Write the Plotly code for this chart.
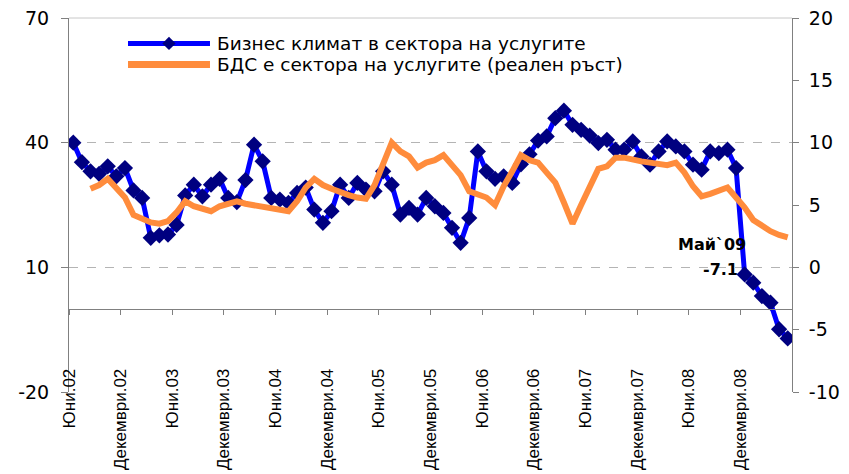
import plotly.graph_objects as go

# Month index 0 = June 2002 ... 83 = May 2009
tick_labels = ["Юни.02", "Декември.02", "Юни.03", "Декември.03", "Юни.04", "Декември.04",
               "Юни.05", "Декември.05", "Юни.06", "Декември.06", "Юни.07", "Декември.07",
               "Юни.08", "Декември.08"]
left_ticks = [-20, 10, 40, 70]
right_ticks = [-10, -5, 0, 5, 10, 15, 20]

business_climate = [
    40.0, 35.3, 33.1, 32.5, 34.3, 31.9, 33.9, 28.5, 26.7, 17.1,
    17.7, 17.9, 20.2, 27.3, 29.9, 27.1, 29.9, 31.3, 26.7, 25.7,
    31.0, 39.5, 35.5, 26.7, 26.3, 25.5, 27.9, 29.2, 23.9, 20.7,
    23.5, 29.9, 26.7, 30.3, 28.7, 28.3, 33.1, 29.9, 22.7, 24.3,
    22.7, 26.7, 24.7, 23.1, 19.5, 15.9, 21.9, 37.9, 33.1, 31.3,
    31.9, 30.3, 34.8, 37.2, 40.5, 41.5, 45.9, 47.7, 44.3, 43.1,
    41.7, 39.9, 40.7, 38.3, 38.3, 40.3, 36.7, 34.7, 37.9, 40.3,
    39.1, 37.9, 34.7, 33.5, 37.9, 37.5, 38.3, 33.9, 8.3, 6.3,
    3.1, 1.5, -4.9, -7.1,
]

gdp_growth = [
    6.3, 6.6, 7.1, 6.3, 5.6, 4.2, 3.9, 3.6, 3.5, 3.7,
    4.4, 5.3, 4.9, 4.7, 4.5, 4.9, 5.1, 5.3, 5.1, 5.0,
    4.9, 4.8, 4.6, 4.5, 5.3, 6.4, 7.1, 6.6, 6.3, 6.0,
    5.8, 5.6, 5.5, 6.6, 8.3, 10.0, 9.3, 8.9, 8.0, 8.4,
    8.6, 9.0, 8.2, 7.4, 6.1, 5.9, 5.6, 5.0, 6.5, 7.7,
    9.0, 8.6, 8.4, 7.6, 6.8, 5.2, 3.5, 5.0, 6.5, 7.9,
    8.1, 8.8, 8.8, 8.6, 8.5, 8.4, 8.3, 8.2, 8.4, 7.6,
    6.5, 5.7, 5.9, 6.1, 6.4, 5.6, 4.8, 3.8, 3.3, 2.9,
    2.6, 2.4,
]
gdp_start = 2

series_names = ["Бизнес климат в сектора на услугите",
                "БДС е сектора на услугите (реален ръст)"]
last_label = "Май`09"

BLUE = "#0000FF"
NAVY = "#000080"
ORANGE = "#FF8C3C"
GRID = "#B4B4B4"
AXIS = "#808080"

bc_x = list(range(len(business_climate)))
gdp_x = list(range(gdp_start, gdp_start + len(gdp_growth)))
n = len(business_climate)

tick_marks = [k * 6 - 0.5 for k in range(n // 6 + 1)]
tick_text = tick_labels + [""] * (len(tick_marks) - len(tick_labels))

fig = go.Figure()
fig.add_trace(go.Scatter(
    x=bc_x, y=business_climate, mode="lines+markers",
    name=series_names[0],
    line=dict(color=BLUE, width=5),
    marker=dict(symbol="diamond", size=12.5, color=NAVY),
    yaxis="y", showlegend=False,
))
fig.add_trace(go.Scatter(
    x=gdp_x, y=gdp_growth, mode="lines",
    name=series_names[1],
    line=dict(color=ORANGE, width=6),
    yaxis="y2", showlegend=False,
))

# Last value label
fig.add_annotation(
    x=78.4, y=15.5, xref="x", yref="y", text=f"<b>{last_label}</b>",
    showarrow=False, xanchor="right", yanchor="middle",
    font=dict(family="DejaVu Sans", size=16, color="black"),
)
fig.add_annotation(
    x=77.5, y=9.5, xref="x", yref="y", text=f"<b>{business_climate[-1]}</b>",
    showarrow=False, xanchor="right", yanchor="middle",
    font=dict(family="DejaVu Sans", size=16, color="black"),
)

# Top border of the plot area
fig.add_shape(type="line", xref="paper", yref="paper", x0=0, x1=1, y0=1, y1=1,
              line=dict(color="#C8C8C8", width=1))

# Legend (drawn in paper coordinates so the row spacing matches)
leg_x0, leg_x1, leg_tx = 0.0816, 0.195, 0.2019
leg_rows = [0.932, 0.876]
fig.add_shape(type="line", xref="paper", yref="paper",
              x0=leg_x0, x1=leg_x1, y0=leg_rows[0], y1=leg_rows[0],
              line=dict(color=BLUE, width=5))
cx, dx, dy = (leg_x0 + leg_x1) / 2, 0.0092, 0.0178
fig.add_shape(type="path", xref="paper", yref="paper",
              path=f"M {cx - dx},{leg_rows[0]} L {cx},{leg_rows[0] + dy} "
                   f"L {cx + dx},{leg_rows[0]} L {cx},{leg_rows[0] - dy} Z",
              fillcolor=NAVY, line=dict(color=NAVY, width=0))
fig.add_shape(type="line", xref="paper", yref="paper",
              x0=leg_x0, x1=leg_x1, y0=leg_rows[1], y1=leg_rows[1],
              line=dict(color=ORANGE, width=7))
for name, ry in zip(series_names, leg_rows):
    fig.add_annotation(
        x=leg_tx, y=ry, xref="paper", yref="paper", text=name,
        showarrow=False, xanchor="left", yanchor="middle",
        font=dict(family="DejaVu Sans", size=18.5, color="black"),
    )

# The page body has an 8px margin (left/top), so the figure is shifted by 8px
fig.update_layout(
    width=841, height=466,
    margin=dict(l=61, r=57, t=10, b=82, autoexpand=False),
    paper_bgcolor="white", plot_bgcolor="white",
    showlegend=False,
    xaxis=dict(
        range=[-0.5, n - 0.5],
        tickmode="array", tickvals=tick_marks, ticktext=tick_text,
        tickangle=-90,
        tickfont=dict(family="Liberation Sans", size=17, color="black"),
        ticks="outside", ticklen=5, tickcolor=AXIS,
        showline=True, linecolor=AXIS, linewidth=1,
        showgrid=False, zeroline=False,
        anchor="free", position=20 / 90,
        ticklabelstandoff=47, automargin=False, ticklabeloverflow="allow",
    ),
    yaxis=dict(
        range=[-20, 70], tickmode="array", tickvals=left_ticks,
        ticktext=[str(v) for v in left_ticks],
        showgrid=True, gridcolor=GRID, griddash="dash", gridwidth=1,
        showline=True, linecolor=AXIS, ticks="outside", ticklen=7, tickcolor=AXIS,
        zeroline=False, automargin=False, ticklabelstandoff=8,
        ticklabeloverflow="allow",
        tickfont=dict(family="DejaVu Sans", size=19, color="black"),
    ),
    yaxis2=dict(
        range=[-10, 20], tickmode="array", tickvals=right_ticks,
        ticktext=[str(v) for v in right_ticks],
        overlaying="y", side="right", anchor="x",
        showgrid=False, showline=True, linecolor=AXIS, ticks="outside", ticklen=6,
        tickcolor=AXIS, zeroline=False, automargin=False, ticklabelstandoff=6,
        ticklabeloverflow="allow",
        tickfont=dict(family="DejaVu Sans", size=19, color="black"),
    ),
)

fig.write_html("out.html")
